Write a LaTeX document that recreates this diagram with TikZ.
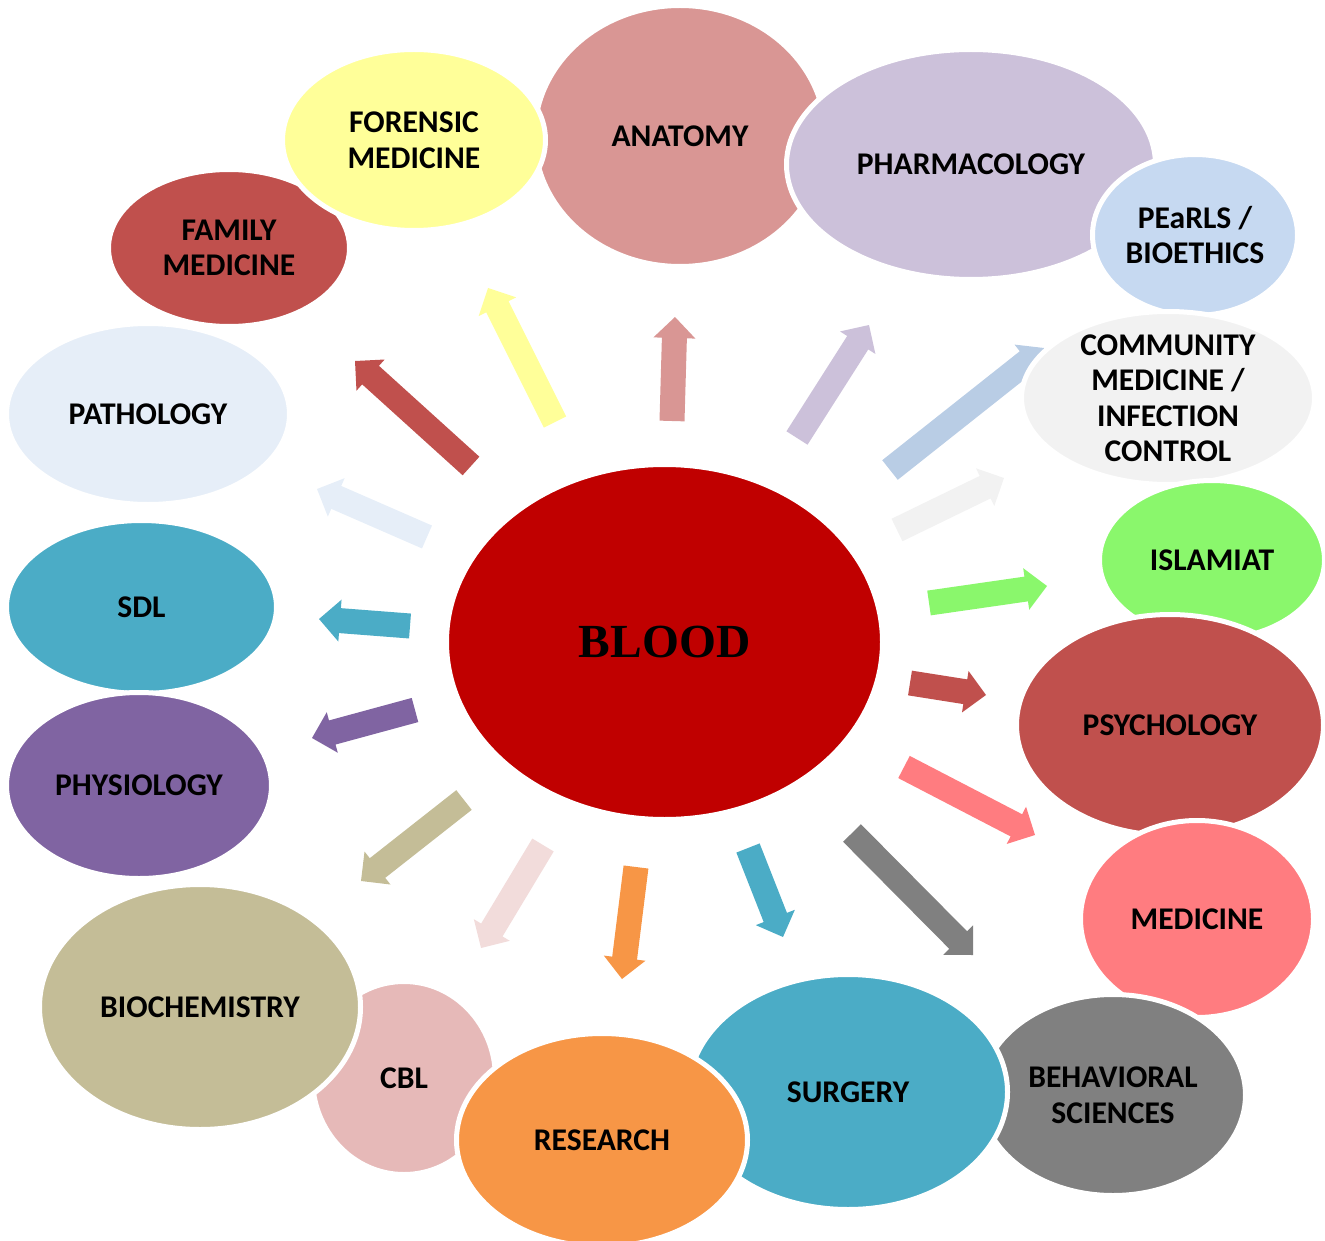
\documentclass[tikz,border=0pt]{standalone}
\usepackage{fontspec}
\setmainfont{Carlito}
\newfontfamily\bloodfont{Liberation Serif}
\usetikzlibrary{shapes.geometric,calc}
\definecolor{cBlood}{HTML}{C00000}
\definecolor{cFor}{HTML}{FFFF99}
\definecolor{cAna}{HTML}{D99694}
\definecolor{cPha}{HTML}{CCC1DA}
\definecolor{cPea}{HTML}{C6D9F1}
\definecolor{cPeaA}{HTML}{B9CDE5}
\definecolor{cCom}{HTML}{F2F2F2}
\definecolor{cIsl}{HTML}{8AF76C}
\definecolor{cRed}{HTML}{C0504D}
\definecolor{cMed}{HTML}{FF7C80}
\definecolor{cBeh}{HTML}{808080}
\definecolor{cSur}{HTML}{4BACC6}
\definecolor{cRes}{HTML}{F79646}
\definecolor{cCbl}{HTML}{E6B9B8}
\definecolor{cCblA}{HTML}{F2DCDB}
\definecolor{cBio}{HTML}{C4BD97}
\definecolor{cPhy}{HTML}{8064A2}
\definecolor{cPat}{HTML}{E6EEF8}
\tikzset{
  bub/.style={ellipse, draw=white, line width=5pt, inner sep=0pt},
  lbl/.style={font=\bfseries\fontsize{31.6}{35.5}\selectfont, align=center, text=black, inner sep=0pt},
}
\newcommand\bubble[6]{%
  \node[bub, fill=#6, minimum width={2*#4+5}, minimum height={2*#5+5}] (#1) at (#2,#3) {};}
\newcommand\blockarr[4]{%
  \coordinate (#1-t) at (#3);
  \coordinate (#1-h) at (#4);
  \coordinate (#1-b) at ($(#1-h)!21pt!(#1-t)$);
  \fill[#2] ($(#1-t)!12.5pt!90:(#1-h)$) -- ($(#1-b)!12.5pt!90:(#1-h)$)
    -- ($(#1-b)!21pt!90:(#1-h)$) -- (#1-h) -- ($(#1-b)!21pt!-90:(#1-h)$)
    -- ($(#1-b)!12.5pt!-90:(#1-h)$) -- ($(#1-t)!12.5pt!-90:(#1-h)$) -- cycle;}
\begin{document}
\begin{tikzpicture}[x=1pt,y=-1pt]
\useasboundingbox (0,0) rectangle (1325,1241);
% arrows
\blockarr{afam}{cRed}{471,466}{355,361}
\blockarr{afor}{cFor}{555,422}{488,288}
\blockarr{aana}{cAna}{672,421}{675,317}
\blockarr{apha}{cPha}{797,438}{869,325}
\blockarr{apea}{cPeaA}{890,470}{1044,348}
\blockarr{acom}{cCom}{897,530}{1004,478}
\blockarr{aisl}{cIsl}{929,603}{1047,586}
\blockarr{apsy}{cRed}{910,683}{986,695}
\blockarr{amed}{cMed}{904,767}{1035,835}
\blockarr{abeh}{cBeh}{852,833}{973,955}
\blockarr{asur}{cSur}{748,848}{783,937}
\blockarr{ares}{cRes}{636,867}{622,979}
\blockarr{acbl}{cCblA}{543,845}{481,948}
\blockarr{abio}{cBio}{464,800}{361,881}
\blockarr{aphy}{cPhy}{415,710}{312,738}
\blockarr{asdl}{cSur}{410,626}{319,619}
\blockarr{apat}{cPat}{427,537}{317,489}
% bubbles (drawing order gives the overlaps)
\bubble{fam}{229}{248}{118}{76}{cRed}
\bubble{ana}{680}{136}{143}{128}{cAna}
\bubble{for}{414}{140}{129}{88}{cFor}
\bubble{pha}{971}{164.5}{182}{112.5}{cPha}
\bubble{pea}{1195}{235}{100}{78}{cPea}
\bubble{com}{1168}{398}{144}{84}{cCom}
\bubble{isl}{1212}{560}{110}{77}{cIsl}
\bubble{psy}{1170}{725}{151}{108}{cRed}
\bubble{med}{1197}{919}{114}{96}{cMed}
\bubble{beh}{1113}{1095}{130}{98}{cBeh}
\bubble{sur}{848}{1092}{157}{115}{cSur}
\bubble{cbl}{404}{1078}{89}{94}{cCbl}
\bubble{res}{602}{1140}{143}{104}{cRes}
\bubble{bio}{200}{1007}{158}{120}{cBio}
\bubble{sdl}{141.5}{607}{132.5}{84}{cSur}
\bubble{phy}{139}{785.5}{130}{90.5}{cPhy}
\bubble{pat}{148}{414}{139}{88}{cPat}
\bubble{blood}{664.5}{642}{215.5}{175}{cBlood}
% labels
\node[lbl] (fam-l) at (fam) {FAMILY\\MEDICINE};
\node[lbl] (ana-l) at (ana) {ANATOMY};
\node[lbl] (for-l) at (for) {FORENSIC\\MEDICINE};
\node[lbl] (pha-l) at (pha) {PHARMACOLOGY};
\node[lbl] (pea-l) at (pea) {PEaRLS /\\BIOETHICS};
\node[lbl] (com-l) at (com) {COMMUNITY\\MEDICINE /\\INFECTION\\CONTROL};
\node[lbl] (isl-l) at (isl) {ISLAMIAT};
\node[lbl] (psy-l) at (psy) {PSYCHOLOGY};
\node[lbl] (med-l) at (med) {MEDICINE};
\node[lbl] (beh-l) at (beh) {BEHAVIORAL\\SCIENCES};
\node[lbl] (sur-l) at (sur) {SURGERY};
\node[lbl] (cbl-l) at (cbl) {CBL};
\node[lbl] (res-l) at (res) {RESEARCH};
\node[lbl] (bio-l) at (bio) {BIOCHEMISTRY};
\node[lbl] (sdl-l) at (sdl) {SDL};
\node[lbl] (phy-l) at (phy) {PHYSIOLOGY};
\node[lbl] (pat-l) at (pat) {PATHOLOGY};
\node[inner sep=0pt, font=\bloodfont\bfseries\fontsize{47.5}{50}\selectfont] (blood-l) at (blood) {BLOOD};
\end{tikzpicture}
\end{document}
